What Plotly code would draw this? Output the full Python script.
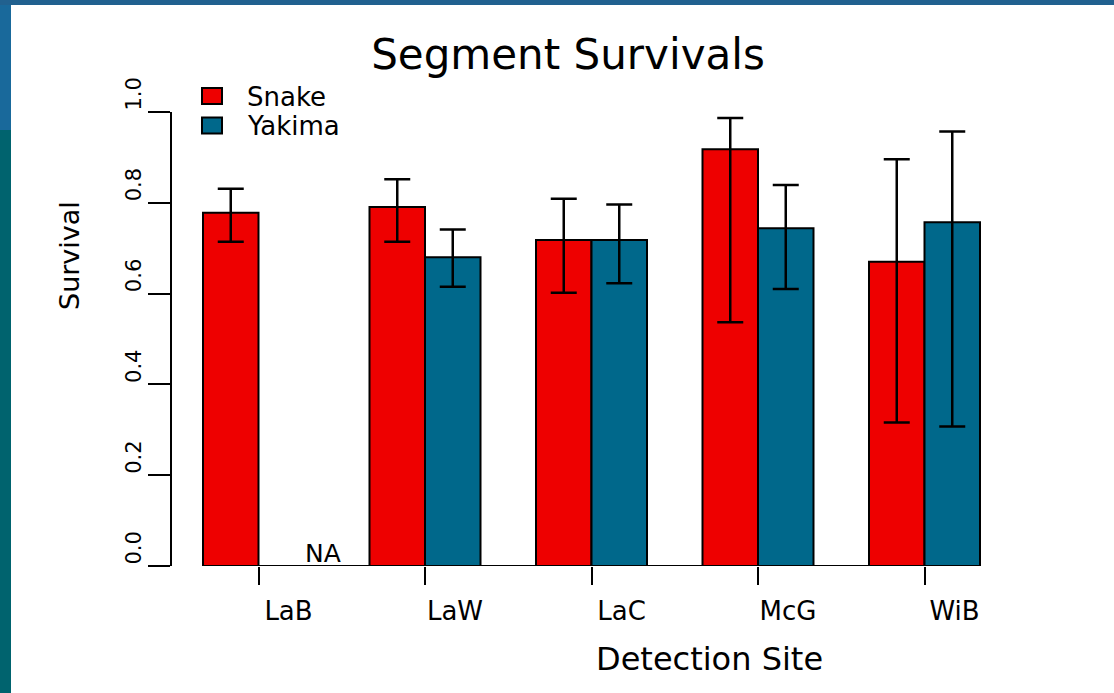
import plotly.graph_objects as go

# ---- data ----
sites = ["LaB", "LaW", "LaC", "McG", "WiB"]
snake = [0.778, 0.791, 0.718, 0.918, 0.670]
snake_hi = [0.831, 0.852, 0.809, 0.987, 0.896]
snake_lo = [0.714, 0.714, 0.602, 0.537, 0.316]
yakima = [None, 0.680, 0.718, 0.744, 0.757]
yakima_hi = [None, 0.741, 0.796, 0.839, 0.957]
yakima_lo = [None, 0.615, 0.623, 0.610, 0.307]
y_ticks = [0.0, 0.2, 0.4, 0.6, 0.8, 1.0]
y_tick_text = ["0.0", "0.2", "0.4", "0.6", "0.8", "1.0"]
series_names = ["Snake", "Yakima"]

# ---- layout constants ----
W, H = 1114, 693
ML, MR, MT, MB = 172, 104, 112, 127
PW, PH = W - ML - MR, H - MT - MB
FONT = "DejaVu Sans"
RED = "#EE0000"
BLUE = "#00688B"


def pxx(px):
    return (px - ML) / PW


def pxy(py):
    return (H - MB - py) / PH


# R barplot-style positions: bar width 1, groups of 2 bars separated by 1
centers = [2 + 3 * i for i in range(len(sites))]
snake_x = [c - 0.5 for c in centers]
yak_x = [c + 0.5 for c in centers]
x_left = snake_x[0] - 0.5
x_right = yak_x[-1] + 0.5
unit_px = 55.5
x_range = [x_left - (203 - ML) / unit_px, x_left + (ML + PW - 203) / unit_px]


def plus(v, hi):
    return [None if a is None else b - a for a, b in zip(v, hi)]


def minus(v, lo):
    return [None if a is None else a - b for a, b in zip(v, lo)]


fig = go.Figure()
fig.add_trace(go.Bar(
    x=snake_x, y=snake, width=1, name=series_names[0],
    marker=dict(color=RED, line=dict(color="black", width=2)),
    error_y=dict(type="data", symmetric=False, array=plus(snake, snake_hi),
                 arrayminus=minus(snake, snake_lo), color="black",
                 thickness=2.5, width=13),
    showlegend=False,
))
fig.add_trace(go.Bar(
    x=yak_x, y=yakima, width=1, name=series_names[1],
    marker=dict(color=BLUE, line=dict(color="black", width=2)),
    error_y=dict(type="data", symmetric=False, array=plus(yakima, yakima_hi),
                 arrayminus=minus(yakima, yakima_lo), color="black",
                 thickness=2.5, width=13),
    showlegend=False,
))

shapes = [
    # slide decoration
    dict(type="rect", xref="paper", yref="paper", x0=pxx(0), x1=pxx(W), y0=pxy(0), y1=pxy(5),
         fillcolor="#21618F", line=dict(width=0), layer="below"),
    dict(type="rect", xref="paper", yref="paper", x0=pxx(0), x1=pxx(11), y0=pxy(5), y1=pxy(130),
         fillcolor="#19699B", line=dict(width=0), layer="below"),
    dict(type="rect", xref="paper", yref="paper", x0=pxx(0), x1=pxx(11), y0=pxy(130), y1=pxy(H),
         fillcolor="#00636E", line=dict(width=0), layer="below"),
    # baseline
    dict(type="line", xref="x", yref="y", x0=x_left, x1=x_right, y0=0, y1=0,
         line=dict(color="black", width=2)),
    # legend boxes
    dict(type="rect", xref="paper", yref="paper", x0=pxx(202), x1=pxx(222), y0=pxy(88), y1=pxy(104),
         fillcolor=RED, line=dict(color="black", width=2)),
    dict(type="rect", xref="paper", yref="paper", x0=pxx(202), x1=pxx(222), y0=pxy(117.5), y1=pxy(133.5),
         fillcolor=BLUE, line=dict(color="black", width=2)),
]

annotations = [
    dict(text=series_names[0], xref="paper", yref="paper", x=pxx(245), y=pxy(97),
         xanchor="left", yanchor="middle", showarrow=False, font=dict(family=FONT, size=26, color="black")),
    dict(text=series_names[1], xref="paper", yref="paper", x=pxx(245), y=pxy(126),
         xanchor="left", yanchor="middle", showarrow=False, font=dict(family=FONT, size=26, color="black")),
    dict(text="NA", xref="x", yref="y", x=yak_x[0], y=0, xshift=37, yshift=13,
         xanchor="center", yanchor="middle", showarrow=False, font=dict(family=FONT, size=25, color="black")),
    dict(text="Survival", xref="paper", yref="paper", x=pxx(69), y=pxy(256), textangle=-90,
         xanchor="center", yanchor="middle", showarrow=False, font=dict(family=FONT, size=27, color="black")),
    dict(text="Detection Site", xref="paper", yref="paper", x=pxx(709), y=pxy(659),
         xanchor="center", yanchor="middle", showarrow=False, font=dict(family=FONT, size=32, color="black")),
]

fig.update_layout(
    width=W, height=H,
    margin=dict(l=ML, r=MR, t=MT, b=MB, autoexpand=False),
    paper_bgcolor="white", plot_bgcolor="white",
    title=dict(text="Segment Survivals", x=568 / W, y=1 - 54.5 / H, xref="container", yref="container",
               xanchor="center", yanchor="middle", font=dict(family=FONT, size=42, color="black")),
    shapes=shapes, annotations=annotations,
    barmode="overlay", showlegend=False,
    font=dict(family=FONT, color="black"),
)
fig.update_xaxes(
    range=x_range, tickmode="array", tickvals=centers, ticktext=sites,
    ticks="outside", ticklen=18, tickwidth=2, tickcolor="black",
    showline=False, showgrid=False, zeroline=False,
    tickfont=dict(family=FONT, size=26, color="black"),
    ticklabelshift=30, ticklabelstandoff=4,
)
fig.update_yaxes(
    range=[0, 1], tickmode="array", tickvals=y_ticks, ticktext=y_tick_text,
    ticks="outside", ticklen=22, tickwidth=2, tickcolor="black",
    showline=True, linewidth=2, linecolor="black",
    showgrid=False, zeroline=False, tickangle=-90,
    tickfont=dict(family=FONT, size=21, color="black"),
    ticklabelshift=-15, ticklabelstandoff=-1,
)

fig.write_html(
    "out.html",
    config={"displayModeBar": False},
    post_script="document.body.style.margin='0';document.body.style.overflow='hidden';",
)
